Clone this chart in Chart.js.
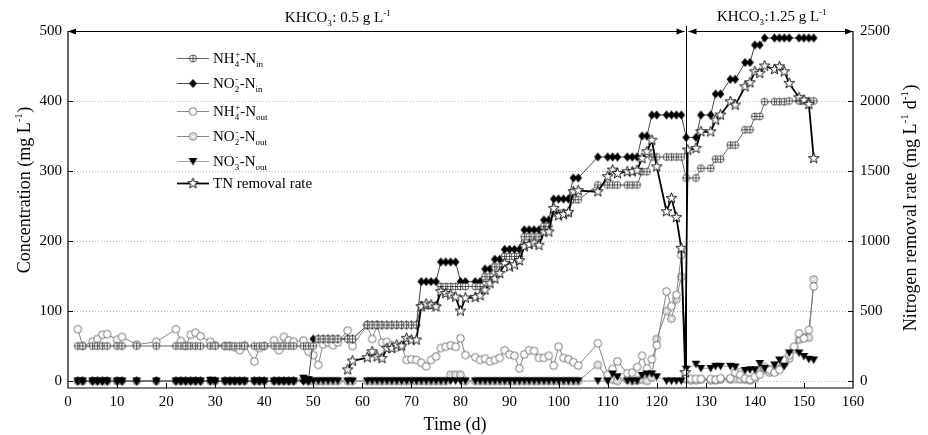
<!DOCTYPE html>
<html>
<head>
<meta charset="utf-8">
<script src="https://cdn.jsdelivr.net/npm/chart.js@4.4.1/dist/chart.umd.min.js"></script>
<style>
  html, body { margin: 0; padding: 0; background: #fff; }
</style>
</head>
<body>
<canvas id="chart" width="928" height="435"></canvas>
<script>
const chartCanvas = document.getElementById("chart");
const chartCtx    = chartCanvas.getContext('2d');

const serif = '"Liberation Serif", "DejaVu Serif", serif';

// sampling days, KHCO3 0.5 g/L phase
const daysP1 = [
  2, 3, 5, 6, 7, 8, 10, 11, 14, 18,
  22, 23, 24, 25, 26, 27, 29, 30,
  32, 33, 34, 35, 36, 38, 39, 40,
  42, 43, 44, 45, 46, 48, 49, 50,
  51, 52, 53, 54, 55, 57, 58,
  61, 62, 63, 64, 65, 66, 67, 68, 69, 70, 71,
  72, 73, 74, 75, 76, 77, 78, 79, 80, 81,
  83, 84, 85, 86, 87, 88, 89, 90, 91, 92, 93, 94, 95, 96, 97, 98, 99, 100, 101, 102, 103, 104,
  108, 110, 111, 112, 114, 115, 116,
  117, 118, 119, 120, 122, 123, 124, 125
];
// KHCO3 1.25 g/L phase
const daysP2    = [126, 128, 129, 131, 132, 133, 135, 136, 138, 139, 140, 141, 142, 144, 145, 146, 147, 149, 150, 151, 152];
const daysP2Out = [126, 127, 128, 129, 131, 132, 133, 135, 136, 137, 138, 139, 140, 141, 142, 143, 144, 145, 146, 147, 148, 149, 150, 151, 152];

// mg/L
const nh4In1 = [
  50, 50, 50, 50, 50, 50, 50, 50, 50, 50,
  50, 50, 50, 50, 50, 50, 50, 50,
  50, 50, 50, 50, 50, 50, 50, 50,
  50, 50, 50, 50, 50, 50, 50, 50,
  60, 60, 60, 60, 60, 60, 60,
  80, 80, 80, 80, 80, 80, 80, 80, 80, 80, 80,
  108, 108, 108, 108, 135, 135, 135, 135, 135, 135,
  135, 135, 149, 149, 163, 163, 178, 178, 178, 178, 206, 206, 206, 206, 221, 221, 240, 240, 240, 240, 259, 259,
  280, 280, 280, 280, 280, 280, 280,
  299, 299, 320, 320, 320, 320, 320, 320
];
const nh4In2 = [290, 290, 304, 304, 317, 317, 337, 337, 359, 359, 378, 378, 399, 399, 399, 399, 400, 400, 400, 400, 400];

const no2In1 = [
  0, 0, 0, 0, 0, 0, 0, 0, 0, 0,
  0, 0, 0, 0, 0, 0, 0, 0,
  0, 0, 0, 0, 0, 0, 0, 0,
  0, 0, 0, 0, 0, 0, 0, 60,
  60, 60, 60, 60, 60, 60, 60,
  80, 80, 80, 80, 80, 80, 80, 80, 80, 80, 80,
  142, 142, 142, 142, 170, 170, 170, 170, 142, 142,
  142, 142, 160, 160, 174, 174, 188, 188, 188, 188, 216, 216, 216, 216, 230, 230, 260, 260, 260, 260, 290, 290,
  320, 320, 320, 320, 320, 320, 320,
  350, 350, 380, 380, 380, 380, 380, 380
];
const no2In2 = [348, 348, 380, 380, 410, 410, 431, 431, 455, 455, 480, 480, 490, 490, 490, 490, 490, 490, 490, 490, 490];

const nh4Out1 = [
  74, 50, 56, 60, 66, 67, 59, 63, 52, 56,
  74, 57, 50, 66, 69, 64, 56, 51,
  50, 50, 48, 44, 51, 28, 47, 50,
  58, 44, 63, 58, 56, 58, 42, 37,
  23, 52, 55, 51, 55, 72, 50,
  80, 60, 80, 55, 56, 51, 48, 50, 30, 31, 30,
  26, 21, 30, 35, 47, 49, 51, 49, 61, 37,
  34, 30, 32, 28, 30, 33, 44, 38, 36, 18, 38, 44, 43, 33, 33, 36, 22, 49, 33, 31, 27, 22,
  54, 9, 17, 28, 11, 12, 20,
  36, 18, 31, 51, 128, 107, 123, 180
];
const nh4Out2 = [4, 3, 3, 3, 3, 2, 4, 4, 12, 9, 4, 2, 6, 9, 20, 16, 12, 16, 30, 37, 49, 68, 61, 73, 135];

const no2Out1 = [
  0, 0, 0, 0, 0, 0, 0, 0, 0, 0,
  0, 0, 0, 0, 0, 0, 0, 0,
  0, 0, 0, 0, 0, 0, 0, 0,
  0, 0, 0, 0, 0, 3, 0, 0,
  0, 0, 0, 0, 0, 0, 0,
  0, 0, 0, 0, 0, 0, 0, 0, 0, 0, 0,
  0, 0, 0, 0, 0, 0, 9, 9, 9, 0,
  0, 0, 0, 0, 0, 0, 0, 0, 0, 0, 0, 0, 0, 0, 0, 0, 0, 0, 0, 0, 0, 0,
  23, 3, 2, 0, 2, 0, 1,
  2, 0, 5, 60, 100, 89, 117, 149
];
const no2Out2 = [2, 1, 1, 2, 1, 1, 2, 2, 3, 2, 2, 1, 3, 13, 16, 12, 14, 18, 25, 32, 46, 59, 62, 62, 145];

const no3Out1 = [
  0, 0, 0, 0, 0, 0, 0, 0, 0, 0,
  0, 0, 0, 0, 0, 0, 1, 0,
  0, 0, 0, 0, 0, 0, 0, 0,
  0, 0, 0, 0, 0, 4, 2, 0,
  0, 0, 0, 0, 0, 0, 0,
  0, 0, 0, 0, 0, 0, 0, 0, 0, 0, 0,
  0, 0, 0, 0, 0, 0, 0, 0, 0, 0,
  0, 0, 0, 0, 0, 0, 0, 0, 0, 0, 0, 0, 0, 0, 0, 0, 0, 0, 0, 0, 0, 0,
  0, 0, 10, 6, 0, 0, 0,
  8, 10, 10, 6, 0, 0, 0, 0
];
const no3Out2 = [17, 24, 18, 18, 21, 21, 21, 20, 15, 16, 16, 25, 18, 23, 30, 21, 40, 40, 35, 31, 30];

// TN removal rate, mg/L/d (right axis)
const tnDays = [
  57, 58, 61, 62, 63, 64, 65, 66, 67, 68, 69, 70, 71,
  72, 73, 74, 75, 76, 77, 78, 79, 80, 81,
  83, 84, 85, 86, 87, 88, 89, 90, 91, 92, 93, 94, 95, 96, 97, 98, 99, 100, 101, 102, 103, 104,
  108, 110, 111, 112, 114, 115, 116, 117, 118, 119, 120, 122, 123, 124, 125, 125.8,
  126.3, 128, 129, 131, 132, 133, 135, 136, 138, 139, 140, 141, 142, 144, 145, 146, 147, 149, 150, 151, 152
];
const tnRate = [
  80, 143, 167, 209, 173, 162, 233, 233, 257, 250, 305, 293, 293,
  531, 550, 543, 530, 638, 625, 614, 600, 500, 593,
  598, 610, 650, 698, 730, 769, 840, 815, 830, 860, 960, 975, 985, 970, 1065, 1065, 1233, 1180, 1190, 1205, 1352, 1360,
  1352, 1460, 1507, 1483, 1495, 1495, 1505, 1590, 1638, 1720, 1530, 1210, 1305, 1169, 948, 60,
  1650, 1662, 1781, 1780, 1864, 1900, 1995, 1971, 2102, 2131, 2209, 2198, 2250, 2226, 2245, 2209, 2126, 2024, 2007, 1976, 1590
];

const xTicks  = [0, 10, 20, 30, 40, 50, 60, 70, 80, 90, 100, 110, 120, 130, 140, 150, 160];
const yTicks  = [0, 100, 200, 300, 400, 500];
const y2Ticks = [0, 500, 1000, 1500, 2000, 2500];
const switchDay = 126;

// ---- marker images ----
function marker(draw) {
  const c = document.createElement('canvas');
  c.width = 15; c.height = 15;
  const g = c.getContext('2d');
  g.translate(7.5, 7.5);
  draw(g);
  return c;
}
const mNH4in = marker(g => {
  g.beginPath(); g.arc(0, 0, 3.5, 0, Math.PI * 2);
  g.fillStyle = '#fff'; g.fill();
  g.strokeStyle = '#333'; g.lineWidth = 0.8; g.stroke();
  g.beginPath(); g.moveTo(-3.5, 0); g.lineTo(3.5, 0); g.moveTo(0, -3.5); g.lineTo(0, 3.5); g.stroke();
});
const mNO2in = marker(g => {
  g.beginPath(); g.moveTo(0, -4.6); g.lineTo(3.8, 0); g.lineTo(0, 4.6); g.lineTo(-3.8, 0); g.closePath();
  g.fillStyle = '#000'; g.fill();
});
const mNH4out = marker(g => {
  g.beginPath(); g.arc(0, 0, 3.8, 0, Math.PI * 2);
  g.fillStyle = '#fff'; g.fill();
  g.strokeStyle = '#555'; g.lineWidth = 0.8; g.stroke();
});
const mNO2out = marker(g => {
  g.beginPath(); g.arc(0, 0, 3.8, 0, Math.PI * 2);
  g.fillStyle = '#fff'; g.fill();
  g.strokeStyle = '#555'; g.lineWidth = 0.8; g.stroke();
  g.beginPath(); g.moveTo(0, -2.8); g.lineTo(2, 0); g.lineTo(0, 2.8); g.lineTo(-2, 0); g.closePath();
  g.strokeStyle = '#888'; g.lineWidth = 0.6; g.stroke();
});
const mNO3out = marker(g => {
  g.beginPath(); g.moveTo(-4.3, -3.4); g.lineTo(4.3, -3.4); g.lineTo(0, 4); g.closePath();
  g.fillStyle = '#000'; g.fill();
});
const mTN = marker(g => {
  g.beginPath();
  for (let i = 0; i < 10; i++) {
    const r = i % 2 ? 2.3 : 5.6;
    const a = -Math.PI / 2 + i * Math.PI / 5;
    if (i) g.lineTo(r * Math.cos(a), r * Math.sin(a)); else g.moveTo(r * Math.cos(a), r * Math.sin(a));
  }
  g.closePath();
  g.fillStyle = '#fff'; g.fill();
  g.strokeStyle = '#000'; g.lineWidth = 0.9; g.stroke();
});

const pts = (days, vals) => days.map((d, i) => ({ x: d, y: vals[i] }));

const series = [
  { label: 'tn',     data: pts(tnDays, tnRate), img: mTN, color: '#000', width: 1.8, axis: 'y2', order: 1,
    text: [['TN removal rate', 0]] },
  { label: 'nh4In',  data: pts(daysP1.concat(daysP2), nh4In1.concat(nh4In2)), img: mNH4in, color: '#555', width: 0.9, axis: 'y', order: 2,
    text: [['NH', 0], ['4', 1], ['+', 2], ['-N', 0], ['in', 1]] },
  { label: 'no2In',  data: pts(daysP1.concat(daysP2), no2In1.concat(no2In2)), img: mNO2in, color: '#333', width: 0.9, axis: 'y', order: 3,
    text: [['NO', 0], ['2', 1], ['-', 2], ['-N', 0], ['in', 1]] },
  { label: 'no3Out', data: pts(daysP1.concat(daysP2), no3Out1.concat(no3Out2)), img: mNO3out, color: '#999', width: 0.9, axis: 'y', order: 4,
    text: [['NO', 0], ['3', 1], ['-', 2], ['-N', 0], ['out', 1]] },
  { label: 'nh4Out', data: pts(daysP1.concat(daysP2Out), nh4Out1.concat(nh4Out2)), img: mNH4out, color: '#777', width: 0.9, axis: 'y', order: 5,
    text: [['NH', 0], ['4', 1], ['+', 2], ['-N', 0], ['out', 1]] },
  { label: 'no2Out', data: pts(daysP1.concat(daysP2Out), no2Out1.concat(no2Out2)), img: mNO2out, color: '#777', width: 0.9, axis: 'y', order: 6,
    text: [['NO', 0], ['2', 1], ['-', 2], ['-N', 0], ['out', 1]] },
];
const legendOrder = ['nh4In', 'no2In', 'nh4Out', 'no2Out', 'no3Out', 'tn'];
const legendRowsY = [58, 83, 111, 136, 161, 183];

// ---- rich text (sub/superscripts) ----
function layoutRich(ctx, segs, size) {
  const small = Math.round(size * 0.6);
  const items = [];
  let cx = 0, prevSub = null;
  segs.forEach(([t, k]) => {
    ctx.font = (k ? small : size) + 'px ' + serif;
    const w = ctx.measureText(t).width;
    if (k === 2 && prevSub) {
      items.push({ t, k, x: prevSub.x + 0.5, w });
      cx = Math.max(cx, prevSub.x + 0.5 + w);
      prevSub = null;
    } else {
      const it = { t, k, x: cx, w };
      items.push(it);
      prevSub = k === 1 ? it : null;
      cx += w + (k ? 0.5 : 0);
    }
  });
  return { items, width: cx, small };
}
function drawRich(ctx, segs, x, y, size, align) {
  const L = layoutRich(ctx, segs, size);
  const x0 = align === 'center' ? x - L.width / 2 : x;
  ctx.fillStyle = '#000';
  ctx.textBaseline = 'alphabetic';
  ctx.textAlign = 'left';
  L.items.forEach(it => {
    ctx.font = (it.k ? L.small : size) + 'px ' + serif;
    const dy = it.k === 1 ? size * 0.28 : it.k === 2 ? -size * 0.42 : 0;
    ctx.fillText(it.t, x0 + it.x, y + dy);
  });
}

function arrowHead(ctx, x, y, dir) {
  ctx.beginPath();
  ctx.moveTo(x, y);
  ctx.lineTo(x - dir * 8, y - 3);
  ctx.lineTo(x - dir * 8, y + 3);
  ctx.closePath();
  ctx.fill();
}

const decor = {
  id: 'decor',
  beforeDatasetsDraw(chart) {
    const { ctx, chartArea: a, scales } = chart;
    ctx.save();
    ctx.strokeStyle = '#b4b4b4';
    ctx.lineWidth = 1;
    ctx.setLineDash([1, 2]);
    yTicks.slice(0, -1).forEach(v => {
      const py = Math.round(scales.y.getPixelForValue(v)) + 0.5;
      ctx.beginPath(); ctx.moveTo(a.left, py); ctx.lineTo(a.right, py); ctx.stroke();
    });
    ctx.restore();
  },
  afterDraw(chart) {
    const { ctx, chartArea: a, scales } = chart;
    const sx = scales.x, sy = scales.y, sy2 = scales.y2;
    ctx.save();
    ctx.strokeStyle = '#000';
    ctx.fillStyle = '#000';
    ctx.lineWidth = 1.2;

    // frame: left, bottom, right
    ctx.beginPath();
    ctx.moveTo(a.left, a.top); ctx.lineTo(a.left, a.bottom);
    ctx.lineTo(a.right, a.bottom); ctx.lineTo(a.right, a.top);
    ctx.stroke();

    // inward ticks
    ctx.lineWidth = 1;
    ctx.beginPath();
    xTicks.slice(1, -1).forEach(v => {
      const px = Math.round(sx.getPixelForValue(v)) + 0.5;
      ctx.moveTo(px, a.bottom); ctx.lineTo(px, a.bottom - 5);
    });
    yTicks.slice(0, -1).forEach(v => {
      const py = Math.round(sy.getPixelForValue(v)) + 0.5;
      ctx.moveTo(a.left, py); ctx.lineTo(a.left + 5, py);
    });
    y2Ticks.slice(0, -1).forEach(v => {
      const py = Math.round(sy2.getPixelForValue(v)) + 0.5;
      ctx.moveTo(a.right, py); ctx.lineTo(a.right - 5, py);
    });
    ctx.stroke();

    // phase switch line
    const vx = Math.round(sx.getPixelForValue(switchDay)) + 0.5;
    ctx.beginPath(); ctx.moveTo(vx, a.top - 5); ctx.lineTo(vx, a.bottom); ctx.stroke();

    // phase arrows along the top
    const ty = Math.round(sy.getPixelForValue(500)) + 0.5;
    const segs = [[a.left, vx - 2], [vx + 2, a.right]];
    ctx.lineWidth = 1.1;
    segs.forEach(([x1, x2]) => {
      ctx.beginPath(); ctx.moveTo(x1, ty); ctx.lineTo(x2, ty); ctx.stroke();
      arrowHead(ctx, x1, ty, -1);
      arrowHead(ctx, x2, ty, 1);
    });
    drawRich(ctx, [['KHCO', 0], ['3', 1], [': 0.5 g L', 0], ['-1', 2]], 338, 22, 15, 'center');
    drawRich(ctx, [['KHCO', 0], ['3', 1], [':1.25 g L', 0], ['-1', 2]], 772, 21, 15, 'center');

    // axis titles
    drawRich(ctx, [['Time (d)', 0]], 455, 430, 18, 'center');
    ctx.save();
    ctx.translate(30, 190); ctx.rotate(-Math.PI / 2);
    drawRich(ctx, [['Concentration (mg L', 0], ['-1', 2], [')', 0]], 0, 0, 18, 'center');
    ctx.restore();
    ctx.save();
    ctx.translate(916, 208); ctx.rotate(-Math.PI / 2);
    drawRich(ctx, [['Nitrogen removal rate (mg L', 0], ['-1', 2], [' d', 0], ['-1', 2], [')', 0]], 0, 0, 18, 'center');
    ctx.restore();

    // legend
    legendOrder.forEach((key, i) => {
      const s = series.find(d => d.label === key);
      const ry = legendRowsY[i];
      ctx.strokeStyle = s.color;
      ctx.lineWidth = s.width;
      ctx.beginPath(); ctx.moveTo(177, ry + 0.5); ctx.lineTo(209, ry + 0.5); ctx.stroke();
      ctx.drawImage(s.img, 193 - 7.5, ry + 0.5 - 7.5);
      drawRich(ctx, s.text, 213, ry + 5, 15, 'left');
    });
    ctx.restore();
  }
};

const tickFont = { family: serif, size: 15 };

const config = {
  type: 'scatter',
  data: {
    datasets: series.map(s => ({
      label: s.label,
      data: s.data,
      showLine: true,
      borderColor: s.color,
      borderWidth: s.width,
      backgroundColor: s.color,
      pointStyle: s.img,
      pointRadius: 4,
      pointHoverRadius: 4,
      yAxisID: s.axis,
      order: s.order,
      tension: 0
    }))
  },
  plugins: [decor],
  options: {
    responsive: false,
    animation: false,
    devicePixelRatio: 1,
    layout: { padding: { top: 31, left: 0, right: 0, bottom: 0 } },
    plugins: {
      legend: { display: false },
      tooltip: { enabled: false }
    },
    scales: {
      x: {
        type: 'linear', min: 0, max: 160,
        ticks: { stepSize: 10, font: tickFont, color: '#000', padding: 5, maxRotation: 0, callback: v => String(v) },
        grid: { display: false, drawTicks: false },
        border: { display: false },
        afterFit: s => { s.height = 47; }
      },
      y: {
        position: 'left', min: -10, max: 500,
        ticks: { stepSize: 100, font: tickFont, color: '#000', padding: 6, callback: v => String(v) },
        afterBuildTicks: s => { s.ticks = yTicks.map(v => ({ value: v })); },
        grid: { display: false, drawTicks: false },
        border: { display: false },
        afterFit: s => { s.width = 68; }
      },
      y2: {
        position: 'right', min: -50, max: 2500,
        ticks: { stepSize: 500, font: tickFont, color: '#000', padding: 7, callback: v => String(v) },
        afterBuildTicks: s => { s.ticks = y2Ticks.map(v => ({ value: v })); },
        grid: { display: false, drawTicks: false },
        border: { display: false },
        afterFit: s => { s.width = 75; }
      }
    }
  }
};

const chart = new Chart(chartCtx, config);
</script>
</body>
</html>
